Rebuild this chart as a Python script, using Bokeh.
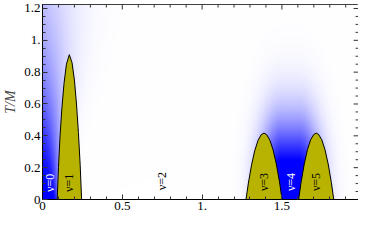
import numpy as np
from bokeh.plotting import figure
from bokeh.models import Range1d, FixedTicker, ColumnDataSource, Label
from bokeh.core.properties import value
from bokeh.embed import file_html
from bokeh.resources import INLINE

# ---- data -----------------------------------------------------------------
# dome boundaries: mu0/eps_B  vs  T/M
nu1_x = [0.092, 0.100, 0.110, 0.122, 0.135, 0.150, 0.168, 0.185, 0.200, 0.213, 0.225, 0.236, 0.245]
nu1_t = [0.0, 0.20, 0.40, 0.58, 0.73, 0.85, 0.91, 0.86, 0.75, 0.60, 0.42, 0.22, 0.0]

nu3_x = [1.275, 1.290, 1.310, 1.330, 1.350, 1.370, 1.388, 1.405, 1.425, 1.445, 1.465, 1.485, 1.501]
nu3_t = [0.0, 0.103, 0.218, 0.307, 0.370, 0.407, 0.417, 0.407, 0.372, 0.311, 0.223, 0.110, 0.0]

nu5_x = [1.605, 1.620, 1.640, 1.660, 1.680, 1.700, 1.715, 1.730, 1.750, 1.770, 1.790, 1.810, 1.825]
nu5_t = [0.0, 0.106, 0.223, 0.313, 0.375, 0.409, 0.417, 0.409, 0.375, 0.313, 0.223, 0.106, 0.0]

# blue (gapped) regions at T = 0
nu0_edge = 0.092
nu4_left = 1.501
nu4_right = 1.605

label_x = [0.050, 0.166, 0.748, 1.385, 1.556, 1.712]
label_t = [0.105, 0.105, 0.115, 0.110, 0.110, 0.110]
label_text = ["ν=0", "ν=1", "ν=2", "ν=3", "ν=4", "ν=5"]
label_color = ["white", "black", "black", "black", "white", "black"]

x_ticks = [0, 0.5, 1.0, 1.5]
x_tick_labels = ["0", "0.5", "1.", "1.5"]
y_ticks = [0, 0.2, 0.4, 0.6, 0.8, 1.0, 1.2]
y_tick_labels = ["0", "0.2", "0.4", "0.6", "0.8", "1.", "1.2"]

X_MAX = 1.98
Y_MAX = 1.225
OLIVE = "#b7b300"
SERIF = "Liberation Serif"

# ---- blue glow image ---------------------------------------------------------
gx = np.linspace(0, X_MAX, 500)
gt = np.linspace(0, Y_MAX, 320)
X, T = np.meshgrid(gx, gt)
w0 = 0.006 + 0.07 * T
I0 = 1.0 / (1.0 + (T / 0.9) ** 2) / (1.0 + np.exp(np.clip((X - nu0_edge) / w0, -50, 50)))
c4 = 0.5 * (nu4_left + nu4_right)
h4 = 0.5 * (nu4_right - nu4_left)
dx4 = np.maximum(np.abs(X - c4) - h4, 0.0)
I4 = np.minimum(1.0, 1.35 * np.exp(-(dx4 / 0.13) ** 2 - (T / 0.45) ** 2))
I = np.clip(np.maximum(I0, I4), 0, 1)

img = np.empty(X.shape, dtype=np.uint32)
view = img.view(dtype=np.uint8).reshape(X.shape + (4,))
view[..., 0] = (255 * (1 - I)).astype(np.uint8)
view[..., 1] = (255 * (1 - I)).astype(np.uint8)
view[..., 2] = 255
view[..., 3] = 255

# ---- figure ------------------------------------------------------------------
p = figure(width=358, height=227, output_backend="svg", toolbar_location=None,
           x_range=Range1d(0, X_MAX), y_range=Range1d(0, Y_MAX),
           min_border_left=35, min_border_right=0, min_border_top=4, min_border_bottom=28)
p.grid.visible = False
p.outline_line_color = "black"
p.outline_line_width = 1
p.background_fill_color = "white"

p.image_rgba(image=[img], x=0, y=0, dw=X_MAX, dh=Y_MAX)

for xs, ts in [(nu1_x, nu1_t), (nu3_x, nu3_t), (nu5_x, nu5_t)]:
    p.patch(xs, ts, fill_color=OLIVE, line_color="black", line_width=1)

src = ColumnDataSource(dict(x=label_x, t=label_t, text=label_text, color=label_color))
p.text(x="x", y="t", text="text", source=src, angle=np.pi / 2, text_color="color",
       text_font=value(SERIF), text_font_size="12px", text_align="center",
       text_baseline="middle")

x_minor = [round(v, 2) for v in np.arange(0, 2.0, 0.1)]
y_minor = [round(v, 2) for v in np.arange(0, 1.25, 0.05)]

for ax in (p.xaxis[0], p.yaxis[0]):
    ax.major_tick_in = 5
    ax.major_tick_out = 0
    ax.minor_tick_in = 3
    ax.minor_tick_out = 0
    ax.axis_line_color = "black"
    ax.major_tick_line_color = "#333333"
    ax.minor_tick_line_color = "#333333"
    ax.major_label_text_font = SERIF
    ax.major_label_text_font_size = "13px"
    ax.major_label_text_color = "black"
    ax.major_label_standoff = 2

p.xaxis.ticker = FixedTicker(ticks=x_ticks, minor_ticks=x_minor)
p.xaxis.major_label_overrides = dict(zip(x_ticks, x_tick_labels))
p.yaxis.ticker = FixedTicker(ticks=y_ticks, minor_ticks=y_minor)
p.yaxis.major_label_overrides = dict(zip(y_ticks, y_tick_labels))
p.yaxis.axis_label = "T/M"
p.yaxis.axis_label_text_font = SERIF
p.yaxis.axis_label_text_font_style = "italic"
p.yaxis.axis_label_text_font_size = "14px"
p.yaxis.axis_label_standoff = 3

# mirrored ticks on the top and right frame edges (from the tick lists)
px_x = X_MAX / 323.0   # data units per pixel
px_y = Y_MAX / 195.0
xt_all = [v for v in x_minor if v <= X_MAX]
xt_len = [5 if v in x_ticks else 3 for v in xt_all]
p.segment(x0=xt_all, x1=xt_all, y0=[Y_MAX] * len(xt_all),
          y1=[Y_MAX - l * px_y for l in xt_len], line_color="#333333", line_width=1)
yt_all = [v for v in y_minor if v <= Y_MAX]
yt_len = [5 if v in y_ticks else 3 for v in yt_all]
p.segment(x0=[X_MAX] * len(yt_all), x1=[X_MAX - l * px_x for l in yt_len],
          y0=yt_all, y1=yt_all, line_color="#333333", line_width=1)

# x axis label  μ0/ϵB  with subscript B
p.add_layout(Label(x=0.875, y=-0.075, text="μ₀/ϵ", text_font=SERIF,
                   text_font_style="italic", text_font_size="13px",
                   text_baseline="top", text_align="left"))
p.add_layout(Label(x=1.012, y=-0.103, text="B", text_font=SERIF,
                   text_font_style="italic", text_font_size="9px",
                   text_baseline="top", text_align="left"))

open("out.html", "w").write(file_html(p, INLINE))
